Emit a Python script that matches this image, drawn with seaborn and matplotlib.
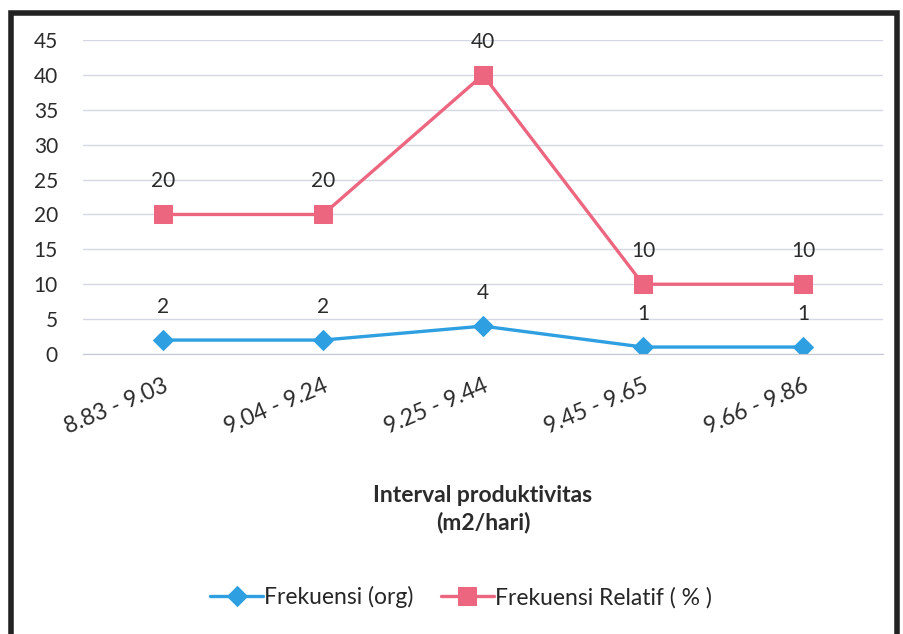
import numpy as np
import pandas as pd
import matplotlib
matplotlib.use('Agg')
import matplotlib.pyplot as plt
import seaborn as sns
from matplotlib.patches import Rectangle

categories = ['8.83 - 9.03', '9.04 - 9.24', '9.25 - 9.44', '9.45 - 9.65', '9.66 - 9.86']
frekuensi = [2, 2, 4, 1, 1]
frek_relatif = [20, 20, 40, 10, 10]
y_ticks = [0, 5, 10, 15, 20, 25, 30, 35, 40, 45]

sns.set_style('white')
plt.rcParams['font.family'] = ['Lato', 'DejaVu Sans']

blue = '#2E9FE0'
pink = '#EC6680'
txt = '#2B2B2B'

fig = plt.figure(figsize=(9.04, 6.34), dpi=100)
ax = fig.add_axes([0.0918, 0.4416, 0.885, 0.4953])

df = pd.DataFrame({'x': np.arange(len(categories)), 'f': frekuensi, 'r': frek_relatif})
sns.lineplot(data=df, x='x', y='f', ax=ax, color=blue, lw=2.4, marker='D',
             markersize=10, markeredgecolor=blue, label='Frekuensi (org)')
sns.lineplot(data=df, x='x', y='r', ax=ax, color=pink, lw=2.4, marker='s',
             markersize=13, markeredgecolor=pink, label='Frekuensi Relatif ( % )')

for i in range(len(categories)):
    ax.annotate(str(frekuensi[i]), (i, frekuensi[i]), xytext=(0, 24), textcoords='offset points',
                ha='center', va='center', fontsize=15, color=txt)
    ax.annotate(str(frek_relatif[i]), (i, frek_relatif[i]), xytext=(0, 24), textcoords='offset points',
                ha='center', va='center', fontsize=15, color=txt)

ax.set_xlim(-0.5, len(categories) - 0.5)
ax.set_ylim(0, 45)
ax.set_yticks(y_ticks)
ax.set_yticklabels([str(v) for v in y_ticks], fontsize=15, color=txt)
ax.set_xticks(range(len(categories)))
ax.set_xticklabels(categories, rotation=23, ha='right', rotation_mode='anchor',
                   fontsize=16.5, color=txt)
ax.tick_params(axis='both', length=0)
ax.tick_params(axis='y', pad=18)
ax.tick_params(axis='x', pad=15)
ax.yaxis.grid(True, color='#D5D7E3', lw=1)
for s in ['top', 'right', 'left']:
    ax.spines[s].set_visible(False)
ax.spines['bottom'].set_color('#C3C6D3')
ax.set_xlabel('Interval produktivitas\n(m2/hari)', fontsize=16.5, fontweight='bold',
              color=txt, labelpad=34, linespacing=1.35)
ax.set_ylabel('')

ax.legend(loc='center', bbox_to_anchor=(0.4725, -0.775), ncol=2, frameon=False,
          fontsize=16.5, handlelength=2.3, columnspacing=1.2, handletextpad=0.05)

fig.patches.append(Rectangle((0.012, -0.02), 0.98, 1.0, transform=fig.transFigure,
                             fill=False, edgecolor='#222222', lw=4))

fig.savefig('out.png', dpi=100)
